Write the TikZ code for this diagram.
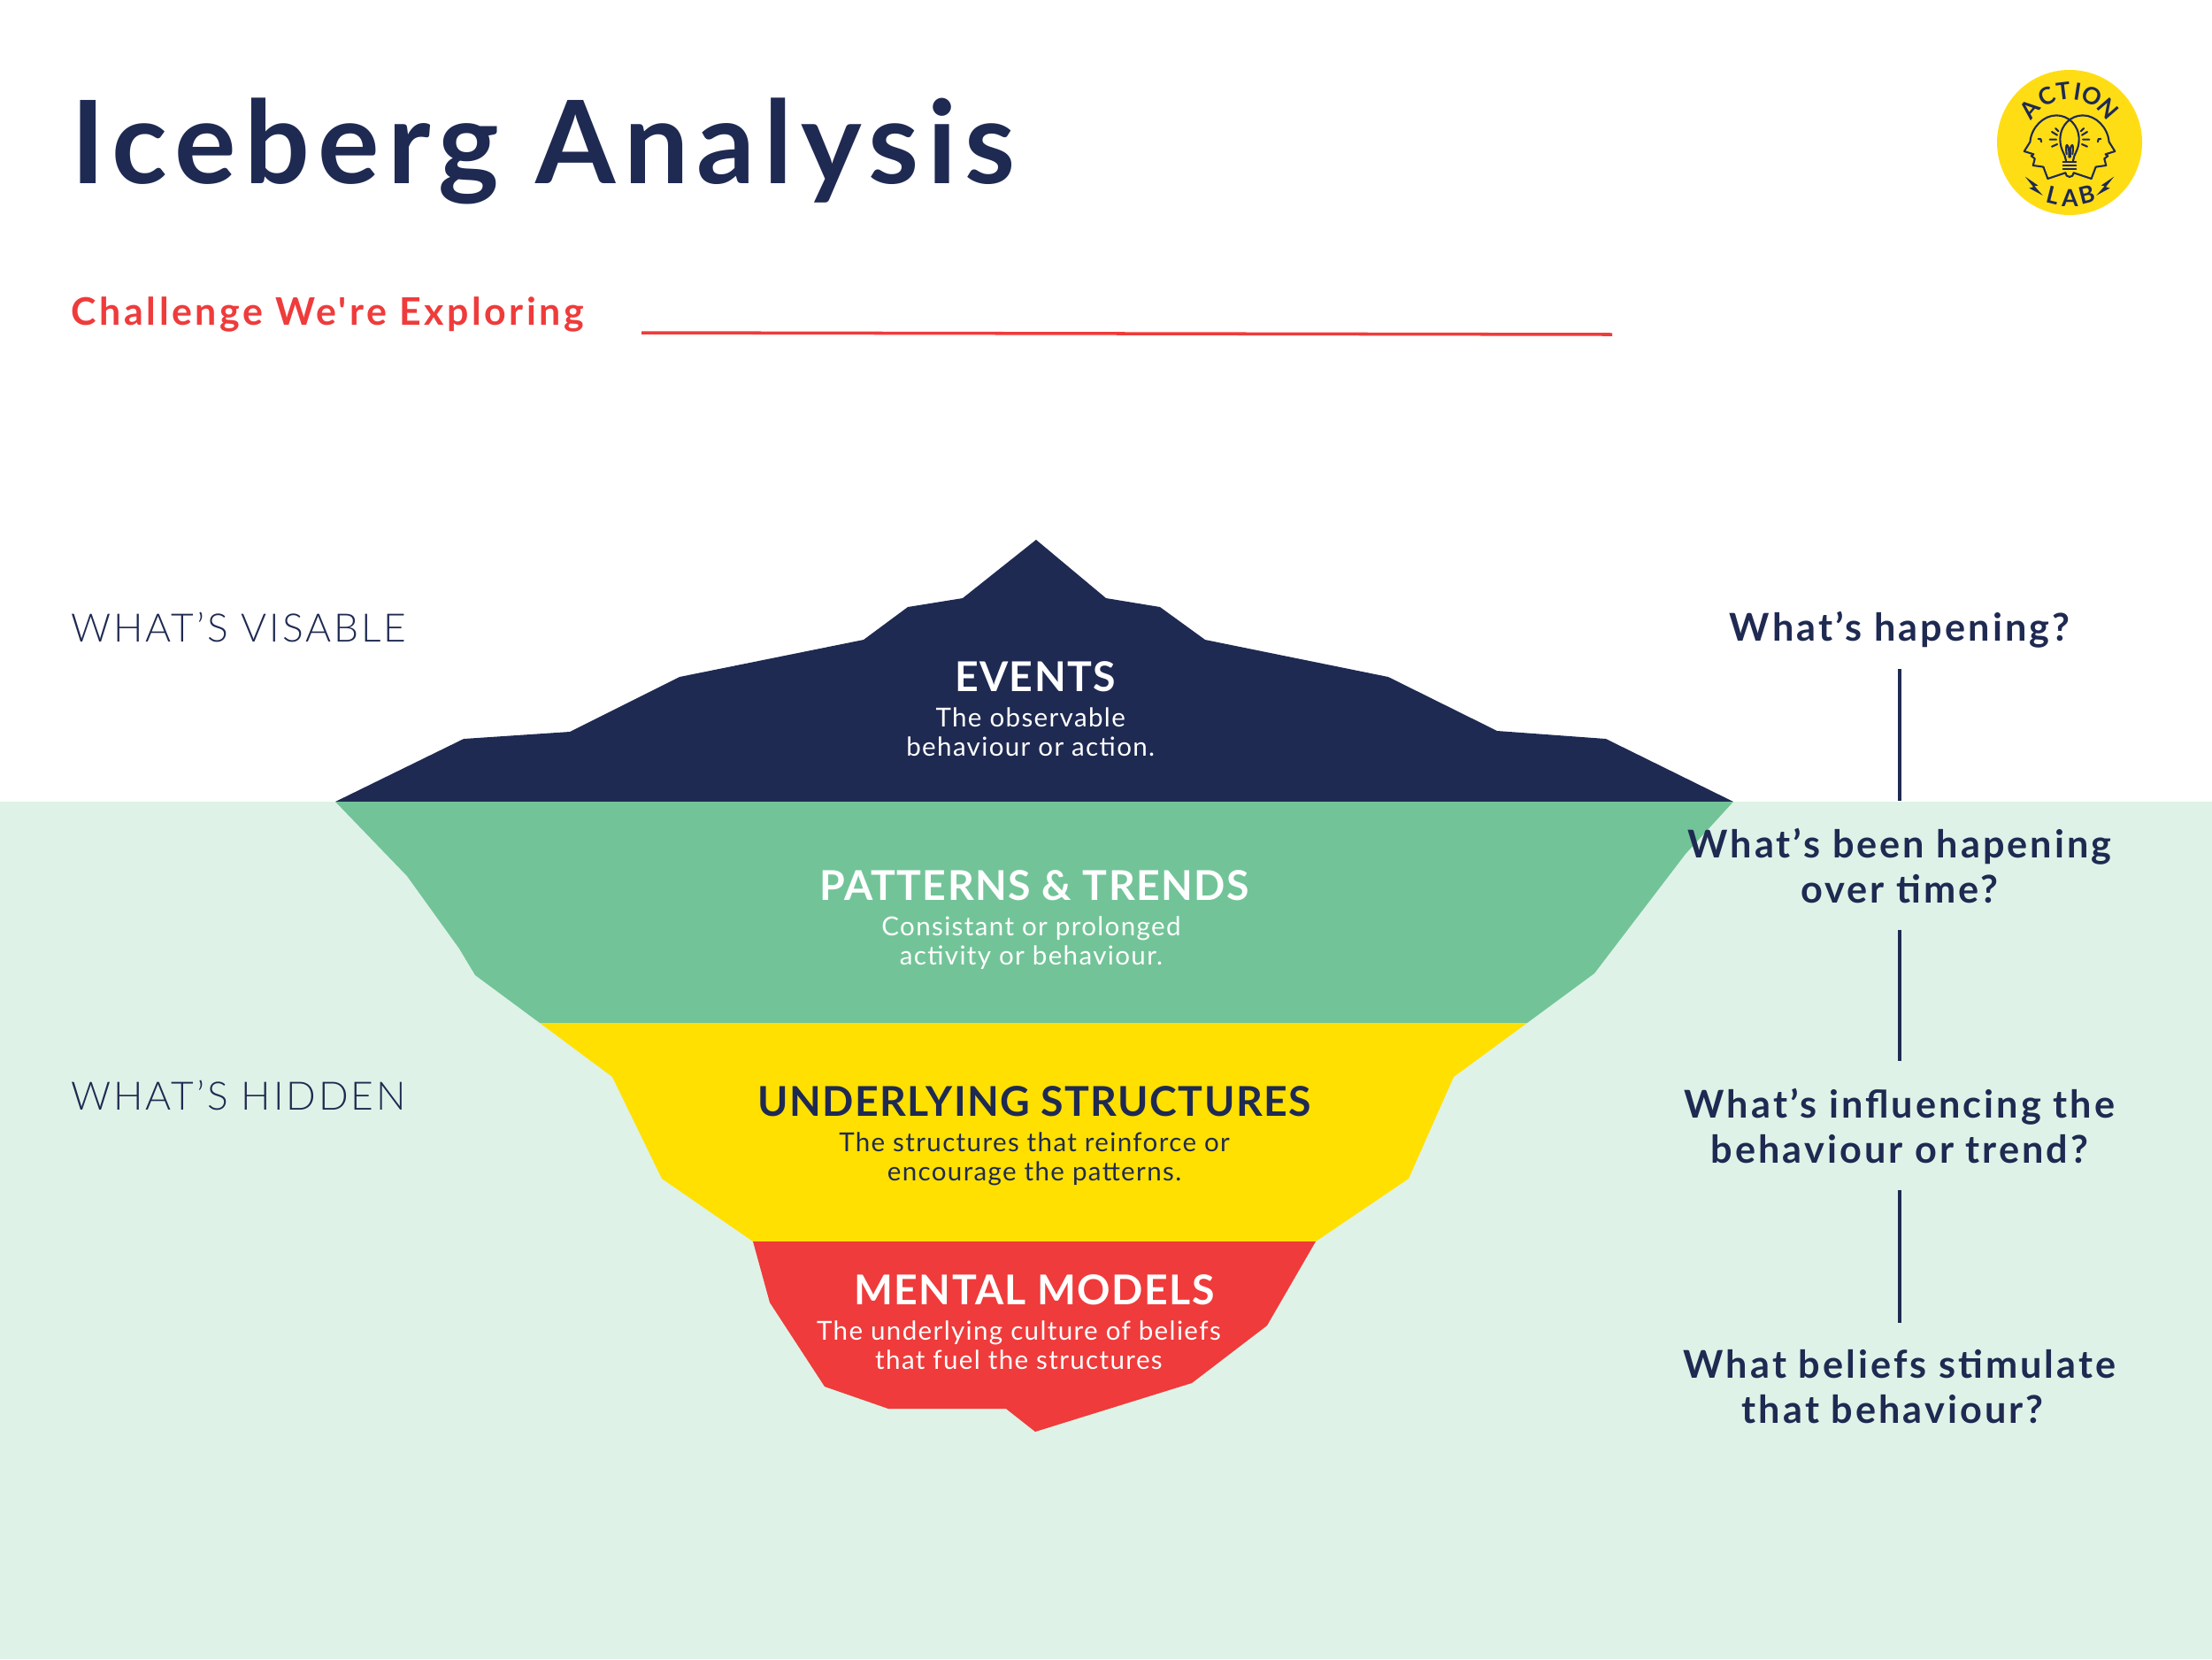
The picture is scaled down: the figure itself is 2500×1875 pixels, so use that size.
\documentclass[tikz,border=0pt]{standalone}
\usepackage{fontspec}
\setmainfont{Lato}
\newfontfamily\spaced[LetterSpace=4.6]{Lato}
\newfontfamily\headfont[LetterSpace=3]{Lato}
\newfontfamily\bigfont[LetterSpace=7.2]{Lato}
\newfontfamily\redfont[LetterSpace=8.3]{Lato}
\newfontfamily\askfont[LetterSpace=7]{Lato}
\newfontfamily\thinfont[LetterSpace=6.5]{Lato Light}
\usepackage{tikz}
\usetikzlibrary{positioning}
\definecolor{navy}{HTML}{1F2A52}
\definecolor{seafill}{HTML}{DFF2E7}
\definecolor{trendgreen}{HTML}{72C498}
\definecolor{structyellow}{HTML}{FFE000}
\definecolor{modelred}{HTML}{EF3B3B}
\definecolor{logoyellow}{HTML}{FFDD15}

\begin{document}
\begin{tikzpicture}[
  x=0.01cm,y=-0.01cm,
  layer/.style={inner sep=0pt,align=center,font=\headfont\bfseries\fontsize{13.2}{16}\selectfont},
  blurb/.style={inner sep=0pt,align=center,below=4.5pt of #1,font=\spaced\fontsize{8.4}{9.5}\selectfont},
  question/.style={inner sep=0pt,align=center,text=navy,font=\askfont\bfseries\fontsize{12.3}{14.5}\selectfont},
  side/.style={inner sep=0pt,anchor=west,text=navy,font=\thinfont\fontsize{12.6}{14}\selectfont},
  stem/.style={draw=navy,line width=1pt,shorten <=9pt,shorten >=8.5pt},
  logoline/.style={draw=navy,line width=0.6pt,line join=round,line cap=round},
  logoletter/.style={inner sep=0pt,text=navy,font=\bfseries\fontsize{7.6}{8}\selectfont},
]
  \useasboundingbox (0,0) rectangle (2500,1875);
  \fill[seafill] (0,906) rectangle (2500,1875);

  \fill[navy] (379,906) -- (524,835) -- (644,827) -- (768,765) -- (976,723) -- (1026,686)
    -- (1088,676) -- (1171,610) -- (1250,676) -- (1311,686) -- (1362,723) -- (1569,765)
    -- (1692,826) -- (1815,835) -- (1959,906) -- cycle;
  \fill[trendgreen] (379,906) -- (460,990) -- (519,1072) -- (537,1102) -- (610,1156)
    -- (1726,1156) -- (1802,1100) -- (1905,965) -- (1959,906) -- cycle;
  \fill[structyellow] (610,1156) -- (692,1217) -- (748,1332) -- (851,1403) -- (1487,1403)
    -- (1592,1332) -- (1643,1217) -- (1726,1156) -- cycle;
  \fill[modelred] (851,1403) -- (870,1472) -- (932,1567) -- (1004,1592) -- (1137,1592)
    -- (1170,1618) -- (1347,1563) -- (1432,1498) -- (1487,1403) -- cycle;

  \node[anchor=base west,inner sep=0pt,text=navy,font=\bigfont\bfseries\fontsize{37}{40}\selectfont] (title) at (80,207) {Iceberg Analysis};
  \node[anchor=west,inner sep=0pt,text=modelred,font=\redfont\bfseries\fontsize{12.2}{14}\selectfont] (challenge) at (80,355) {Challenge We're Exploring};
  \coordinate (blankstart) at (725,376);
  \coordinate (blankend) at (1822,378);
  \draw[modelred,line width=1pt] (blankstart) -- (blankend);

  \node[side] (visible) at (80,709) {WHAT’S VISABLE};
  \node[side] (hidden) at (80,1238) {WHAT’S HIDDEN};

  \node[layer,text=white] (events) at (1170,765) {EVENTS};
  \node[blurb=events,text=white,xshift=-1.5pt] (eventstxt) {The observable\\behaviour or action.};
  \node[layer,text=white] (patterns) at (1169,1001) {PATTERNS \& TRENDS};
  \node[blurb=patterns,text=white,xshift=-1pt] (patternstxt) {Consistant or prolonged\\activity or behaviour.};
  \node[layer,text=navy] (structures) at (1169,1245) {UNDERLYING STRUCTURES};
  \node[blurb=structures,text=navy] (structurestxt) {The structures that reinforce or\\encourage the patterns.};
  \node[layer,text=white] (models) at (1169,1458) {MENTAL MODELS};
  \node[blurb=models,text=white,xshift=-5pt] (modelstxt) {The underlying culture of beliefs\\that fuel the structures};

  \node[question] (q1) at (2147,712) {What’s hapening?};
  \node[question] (q2) at (2147,978) {What’s been hapening\\over time?};
  \node[question] (q3) at (2147,1272) {What’s influencing the\\behaviour or trend?};
  \node[question] (q4) at (2147,1567) {What beliefs stimulate\\that behaviour?\hspace*{4.5pt}};
  \draw[stem,shorten <=6.5pt] (q1) -- (q2);
  \draw[stem,shorten <=8.5pt] (q2) -- (q3);
  \draw[stem,shorten <=8.5pt] (q3) -- (q4);

  \fill[logoyellow] (2339,161) circle (82);
  \begin{scope}[shift={(2339,161)},x=0.00333cm,y=-0.00333cm]
    \foreach \ltr/\ang in {A/-50,C/-26,T/-7,I/9,O/26,N/49}
      \node[logoletter,rotate=-\ang] (logo\ltr) at ({175*sin(\ang)},{-175*cos(\ang)}) {\ltr};
    \foreach \nm/\ltr/\ang/\px/\py in {lowl/L/-14/-54/180,lowa/A/0/1/190,lowb/B/14/59/178}
      \node[logoletter,rotate=\ang] (\nm) at (\px,\py) {\ltr};
    \foreach \side in {1,-1}{
      \begin{scope}[xscale=\side]
        \draw[logoline] (-74,123) -- (-89,83) -- (-124,78) -- (-118,55) -- (-130,46) -- (-122,40)
          -- (-154,30) -- (-134,-2) .. controls (-130,-50) and (-90,-92) .. (-45,-92)
          .. controls (-5,-92) and (32,-60) .. (32,-10) .. controls (32,25) and (14,40) .. (12,62);
        \draw[logoline] (-74,123) -- (-14,103);
        \draw[logoline] (-106,-12) .. controls (-100,-16) and (-94,-10) .. (-96,-2);
        \draw[logoline] (-67,-10) -- (-45,-10) (-60,14) -- (-42,6) (-60,-36) -- (-42,-25) (-48,-48) -- (-38,-38);
        \fill[navy] (-151,116) -- (-107,146) -- (-119,148) -- (-91,180) -- (-137,155) -- (-123,151) -- cycle;
        \draw[logoline] (-10,40) .. controls (-16,0) and (-4,0) .. (-2,30) -- (-2,50);
      \end{scope}
    }
    \draw[logoline] (-22,65) -- (22,65) (-22,78) -- (22,78) (-22,90) -- (22,90);
    \draw[logoline] (-14,103) arc (180:0:14);
  \end{scope}
\end{tikzpicture}
\end{document}
